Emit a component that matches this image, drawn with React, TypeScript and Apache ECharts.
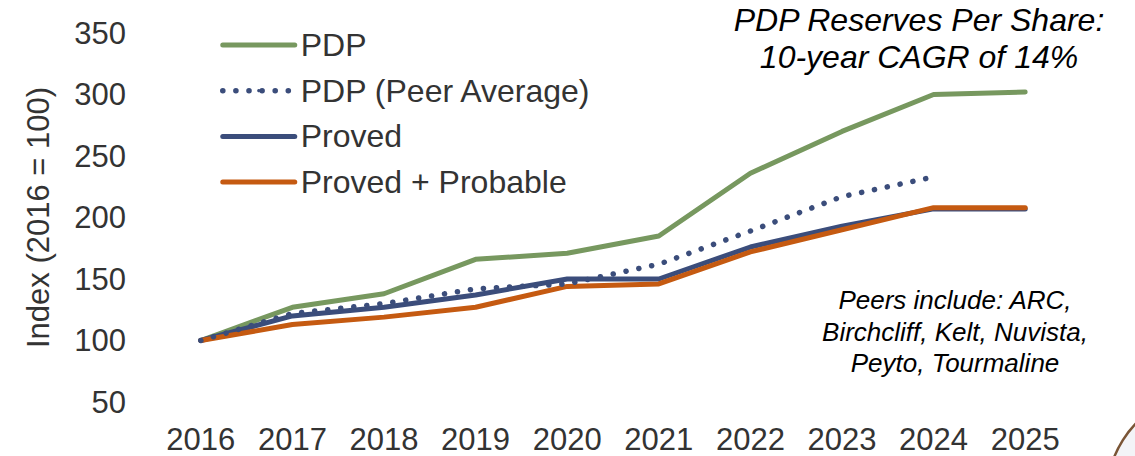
import React, { useEffect, useRef } from "react";
import * as echarts from "echarts";

const years = ["2016", "2017", "2018", "2019", "2020", "2021", "2022", "2023", "2024", "2025"];
const pdp = [100, 127, 138, 166, 171, 185, 236, 270, 300, 302];
const pdpPeer = [100, 122, 130, 142, 146, 162, 189, 217, 233, null];
const proved = [100, 120, 127, 137, 150, 150, 176, 193, 207, 207];
const provedProbable = [100, 113, 119, 127, 144, 146, 172, 190, 208, 208];

const GREEN = "#77985F";
const NAVY = "#3B4D7B";
const ORANGE = "#C55A11";
const TEXT = "#333333";
const FONT = "'Liberation Sans', Arial, sans-serif";

export default function App() {
  const ref = useRef<HTMLDivElement>(null);
  useEffect(() => {
    if (!ref.current) return;
    const chart = echarts.init(ref.current, null, { renderer: "svg" });
    const lineSeries = (name: string, data: (number | null)[], color: string, dotted = false) => ({
      name,
      type: "line",
      data,
      symbol: "none",
      showSymbol: false,
      connectNulls: false,
      lineStyle: dotted
        ? { color, width: 5.5, type: [0.1, 13], cap: "round" }
        : { color, width: 5, cap: "round", join: "round" },
      itemStyle: { color },
      z: dotted ? 3 : 2,
    });
    chart.setOption({
      animation: false,
      textStyle: { fontFamily: FONT },
      grid: { left: 155, top: 33, width: 916, height: 369, containLabel: false },
      legend: {
        orient: "vertical",
        left: 220,
        top: 29,
        padding: 0,
        itemWidth: 72,
        itemHeight: 4,
        itemGap: 13.7,
        lineStyle: { width: "inherit", type: "inherit", cap: "round" },
        textStyle: { fontSize: 32, color: TEXT, fontFamily: FONT, padding: [0, 0, 0, 1] },
        data: ["PDP", "PDP (Peer Average)", "Proved", "Proved + Probable"],
      },
      xAxis: {
        type: "category",
        data: years,
        boundaryGap: true,
        axisLine: { show: false },
        axisTick: { show: false },
        axisLabel: { fontSize: 31, color: TEXT, margin: 22, fontFamily: FONT },
      },
      yAxis: {
        type: "value",
        min: 50,
        max: 350,
        interval: 50,
        splitLine: { show: false },
        axisLine: { show: false },
        axisTick: { show: false },
        axisLabel: { fontSize: 31, color: TEXT, margin: 29, fontFamily: FONT },
        name: "Index (2016 = 100)",
        nameLocation: "middle",
        nameGap: 101,
        nameRotate: 90,
        nameTextStyle: { fontSize: 31, color: TEXT, fontFamily: FONT },
      },
      series: [
        lineSeries("PDP", pdp, GREEN),
        lineSeries("PDP (Peer Average)", pdpPeer, NAVY, true),
        lineSeries("Proved", proved, NAVY),
        lineSeries("Proved + Probable", provedProbable, ORANGE),
      ],
      graphic: [
        {
          type: "circle",
          shape: { cx: 1210, cy: 495, r: 103 },
          style: { fill: "#F3F4F7", stroke: "#7A5536", lineWidth: 2.5 },
          silent: true,
        },
        {
          type: "text",
          x: 919,
          y: 38.5,
          style: {
            text: "PDP Reserves Per Share:\n10-year CAGR of 14%",
            font: `italic 32px ${FONT}`,
            fill: "#000000",
            align: "center",
            verticalAlign: "middle",
            lineHeight: 37,
          },
        },
        {
          type: "text",
          x: 955,
          y: 331.5,
          style: {
            text: "Peers include: ARC,\nBirchcliff, Kelt, Nuvista,\nPeyto, Tourmaline",
            font: `italic 26px ${FONT}`,
            fill: "#000000",
            align: "center",
            verticalAlign: "middle",
            lineHeight: 31.5,
          },
        },
      ],
    });
    return () => chart.dispose();
  }, []);
  return (
    <div
      ref={ref}
      style={{ position: "fixed", left: 0, top: 0, width: 1135, height: 456, background: "#ffffff" }}
    />
  );
}
